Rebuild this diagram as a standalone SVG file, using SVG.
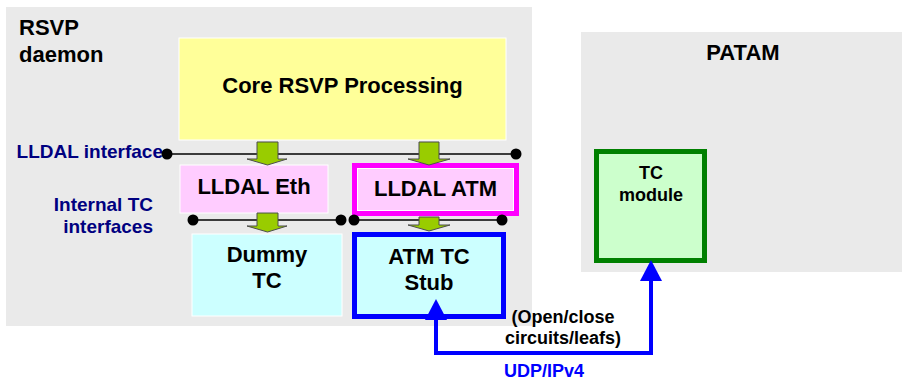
<svg xmlns="http://www.w3.org/2000/svg" width="902" height="382" viewBox="0 0 902 382">
<style>
text{font-family:"Liberation Sans",Arial,sans-serif;font-weight:bold;fill:#000}
.big{font-size:22px}
.mid{font-size:18px}
.lbl{font-size:19px;fill:#000080}
.panel{fill:#EAEAEA}
.wb{stroke:#FFFFFF;stroke-width:1}
.garrow{fill:#99CC00;stroke:#4D4D4D;stroke-width:1}
.iface{stroke:#000;stroke-width:1.3;fill:none}
.dot{fill:#000}
.blue{stroke:#0000FF;stroke-width:4;fill:none}
</style>
<defs>
<marker id="bh" markerUnits="userSpaceOnUse" markerWidth="22" markerHeight="22" refX="0" refY="11" orient="auto-start-reverse" viewBox="0 0 22 22">
<path d="M0,0 L21,11 L0,22 Z" fill="#0000FF"/>
</marker>
</defs>
<rect width="902" height="382" fill="#FFFFFF"/>

<g id="rsvp-daemon">
<rect class="panel" x="6" y="7" width="526" height="319"/>
<text class="big" x="19" y="35">RSVP</text>
<text class="big" x="19" y="62">daemon</text>
</g>

<g id="patam">
<rect class="panel" x="581" y="32" width="321" height="240"/>
<text class="big" x="743" y="60" text-anchor="middle">PATAM</text>
</g>

<g id="core">
<rect x="179" y="38" width="327" height="102" fill="#FFFF99" class="wb"/>
<text class="big" x="342.5" y="93" text-anchor="middle">Core RSVP Processing</text>
</g>

<g id="lldal-interface-label">
<text class="lbl" x="163" y="158" text-anchor="end">LLDAL interface</text>
</g>
<g id="internal-tc-label">
<text class="lbl" x="153" y="211" text-anchor="end">Internal TC</text>
<text class="lbl" x="153" y="233" text-anchor="end">interfaces</text>
</g>

<g id="lldal-eth">
<rect x="180" y="165" width="148" height="48" fill="#FFCCFF" class="wb"/>
<text class="big" x="254" y="194" text-anchor="middle">LLDAL Eth</text>
</g>

<g id="lldal-atm">
<rect x="354.5" y="165.5" width="162" height="48" fill="#FFCCFF" stroke="#FF00FF" stroke-width="5"/>
<rect x="357.5" y="168.5" width="156" height="42" fill="none" stroke="#FFFFFF" stroke-width="1"/>
<text class="big" x="435.5" y="196" text-anchor="middle">LLDAL ATM</text>
</g>

<g id="dummy-tc">
<rect x="192" y="234" width="150" height="82" fill="#CCFFFF" class="wb"/>
<text class="big" x="267" y="262" text-anchor="middle">Dummy</text>
<text class="big" x="267" y="288" text-anchor="middle">TC</text>
</g>

<g id="atm-tc-stub">
<rect x="354.5" y="234.5" width="149" height="82" fill="#CCFFFF" stroke="#0000FF" stroke-width="5"/>
<text class="big" x="429" y="264" text-anchor="middle">ATM TC</text>
<text class="big" x="429" y="290" text-anchor="middle">Stub</text>
</g>

<g id="tc-module">
<rect x="596.5" y="151.5" width="108" height="109" fill="#CCFFCC" stroke="#008000" stroke-width="5"/>
<text class="mid" x="651" y="179" text-anchor="middle">TC</text>
<text class="mid" x="651" y="201" text-anchor="middle">module</text>
</g>

<g id="connectors">
<line class="iface" x1="167" y1="154" x2="516" y2="154"/>
<circle class="dot" cx="167" cy="154" r="5.5"/>
<circle class="dot" cx="516" cy="154" r="5.5"/>
<line class="iface" x1="193" y1="220" x2="341" y2="220"/>
<circle class="dot" cx="193" cy="220" r="5.5"/>
<circle class="dot" cx="341" cy="220" r="5.5"/>
<line class="iface" x1="354" y1="220" x2="502" y2="220"/>
<circle class="dot" cx="354" cy="220" r="5.5"/>
<circle class="dot" cx="502" cy="220" r="5.5"/>

<polygon class="garrow" points="257,142 278,142 278,159 287,159 267.5,165 247,159 257,159"/>
<polygon class="garrow" points="257,213 278,213 278,226 287,226 267.5,232 247,226 257,226"/>
<polygon class="garrow" points="419,142 439,142 439,159 450,159 429,165 408,159 419,159"/>
<polygon class="garrow" points="419,217 439,217 439,225 450,225 429,231 408,225 419,225"/>

<path class="blue" d="M436,320 V353 H651 V281" marker-start="url(#bh)" marker-end="url(#bh)"/>
<text class="mid" x="563" y="323" text-anchor="middle">(Open/close</text>
<text class="mid" x="563" y="344" text-anchor="middle">circuits/leafs)</text>
<text class="mid" x="544" y="377" text-anchor="middle" style="fill:#0000FF">UDP/IPv4</text>
</g>
</svg>
